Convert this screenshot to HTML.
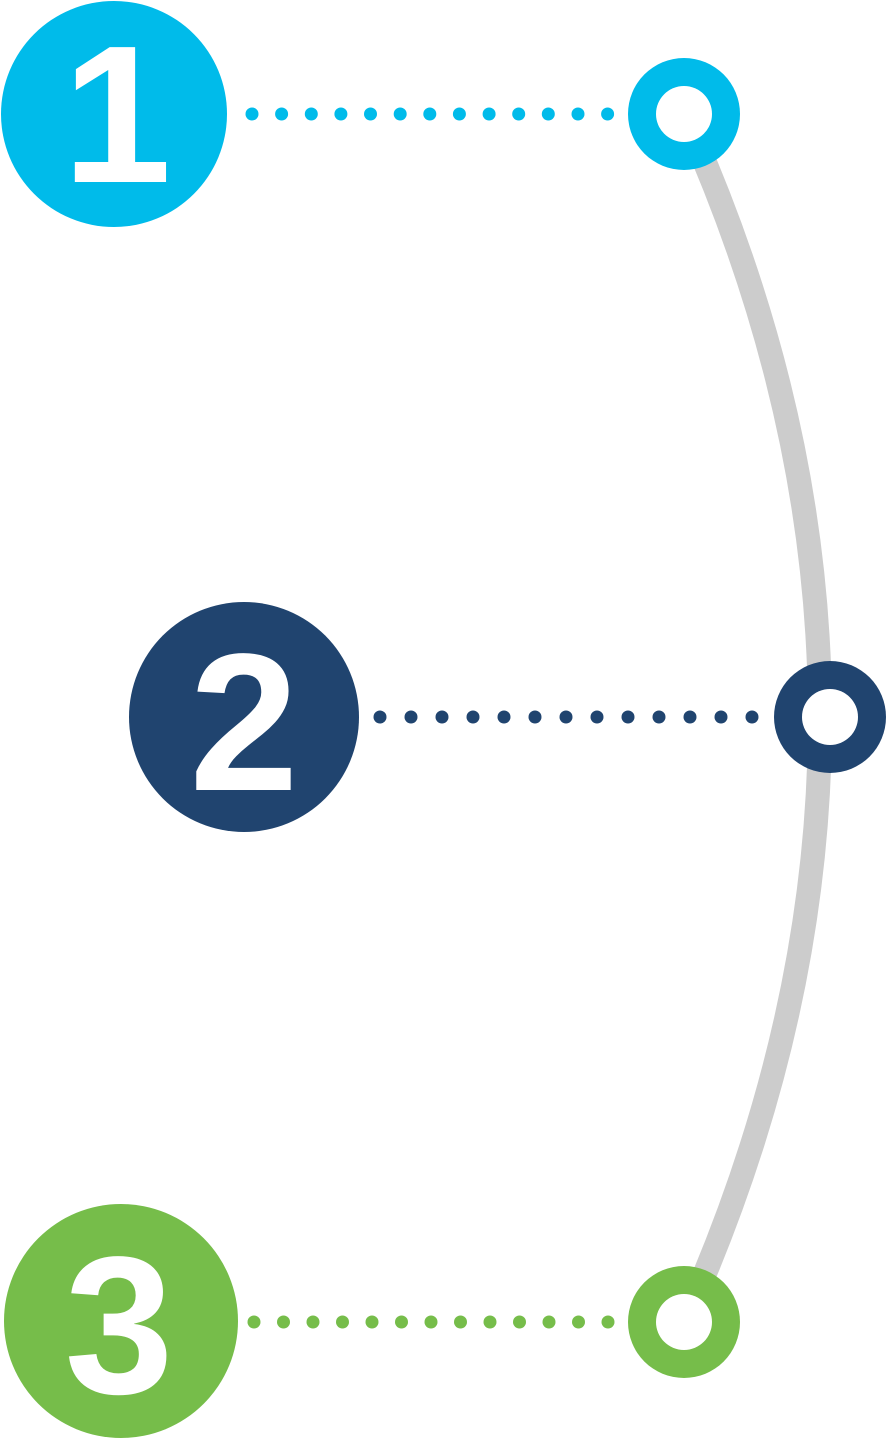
<!DOCTYPE html>
<html><head><meta charset="utf-8"><style>html,body{margin:0;padding:0;background:#fff;}svg{display:block}</style></head>
<body>
<svg width="886" height="1439" viewBox="0 0 886 1439" xmlns="http://www.w3.org/2000/svg">
<path d="M684 114 Q956 717 684 1322" fill="none" stroke="#cccccc" stroke-width="24"/>
<g fill="#00BBEA">
<circle cx="114" cy="114" r="113"/>
<circle cx="252" cy="114" r="6.5"/><circle cx="281.6" cy="114" r="6.5"/><circle cx="311.3" cy="114" r="6.5"/><circle cx="340.9" cy="114" r="6.5"/><circle cx="370.5" cy="114" r="6.5"/><circle cx="400.2" cy="114" r="6.5"/><circle cx="429.8" cy="114" r="6.5"/><circle cx="459.4" cy="114" r="6.5"/><circle cx="489.1" cy="114" r="6.5"/><circle cx="518.7" cy="114" r="6.5"/><circle cx="548.3" cy="114" r="6.5"/><circle cx="578" cy="114" r="6.5"/><circle cx="607.6" cy="114" r="6.5"/>
<circle cx="684" cy="114" r="56"/>
</g>
<circle cx="684" cy="114" r="28" fill="#fff"/>
<g fill="#20446F">
<circle cx="244" cy="717" r="115"/>
<circle cx="380" cy="717" r="6.5"/><circle cx="411" cy="717" r="6.5"/><circle cx="442" cy="717" r="6.5"/><circle cx="473" cy="717" r="6.5"/><circle cx="504" cy="717" r="6.5"/><circle cx="535" cy="717" r="6.5"/><circle cx="566" cy="717" r="6.5"/><circle cx="597" cy="717" r="6.5"/><circle cx="628" cy="717" r="6.5"/><circle cx="659" cy="717" r="6.5"/><circle cx="690" cy="717" r="6.5"/><circle cx="721" cy="717" r="6.5"/><circle cx="752" cy="717" r="6.5"/>
<circle cx="830" cy="717" r="56"/>
</g>
<circle cx="830" cy="717" r="28" fill="#fff"/>
<g fill="#76BD4A">
<circle cx="121" cy="1321" r="117"/>
<circle cx="254" cy="1322" r="6.5"/><circle cx="283.5" cy="1322" r="6.5"/><circle cx="313" cy="1322" r="6.5"/><circle cx="342.5" cy="1322" r="6.5"/><circle cx="372" cy="1322" r="6.5"/><circle cx="401.5" cy="1322" r="6.5"/><circle cx="431" cy="1322" r="6.5"/><circle cx="460.5" cy="1322" r="6.5"/><circle cx="490" cy="1322" r="6.5"/><circle cx="519.5" cy="1322" r="6.5"/><circle cx="549" cy="1322" r="6.5"/><circle cx="578.5" cy="1322" r="6.5"/><circle cx="608" cy="1322" r="6.5"/>
<circle cx="684" cy="1322" r="56"/>
</g>
<circle cx="684" cy="1322" r="28" fill="#fff"/>
<g fill="#fff" font-family="Liberation Sans, sans-serif" font-weight="bold" font-size="196" text-anchor="middle">
<text x="117" y="182">1</text>
<text x="244" y="790">2</text>
<text x="119" y="1393">3</text>
</g>
</svg>
</body></html>
